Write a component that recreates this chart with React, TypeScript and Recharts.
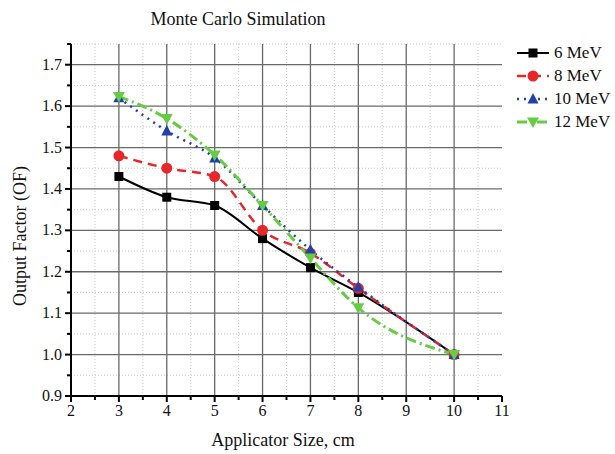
import React from "react";
import {
  LineChart,
  Line,
  XAxis,
  YAxis,
  ReferenceLine,
} from "recharts";

// applicator sizes (cm) and output factors per beam energy
const sizes = [3, 4, 5, 6, 7, 8, 10];
const mev6 = [1.43, 1.38, 1.36, 1.28, 1.21, 1.15, 1.0];
const mev8 = [1.48, 1.45, 1.43, 1.3, 1.245, 1.16, 1.0];
const mev10 = [1.62, 1.54, 1.475, 1.36, 1.253, 1.163, 1.0];
const mev12 = [1.623, 1.57, 1.482, 1.36, 1.233, 1.113, 1.0];

const xTicks = [2, 2.5, 3, 3.5, 4, 4.5, 5, 5.5, 6, 6.5, 7, 7.5, 8, 8.5, 9, 9.5, 10, 10.5, 11];
const yTicks = [0.9, 0.95, 1.0, 1.05, 1.1, 1.15, 1.2, 1.25, 1.3, 1.35, 1.4, 1.45, 1.5, 1.55, 1.6, 1.65, 1.7, 1.75];
const xMajor = [3, 4, 5, 6, 7, 8, 9, 10];
const yMajor = [1.0, 1.1, 1.2, 1.3, 1.4, 1.5, 1.6, 1.7];

const data = sizes.map((s, i) => ({
  size: s,
  mev6: mev6[i],
  mev8: mev8[i],
  mev10: mev10[i],
  mev12: mev12[i],
}));

const FONT = '"Liberation Serif", "DejaVu Serif", serif';

type Shape = "square" | "circle" | "triUp" | "triDown";

const series: { key: string; name: string; color: string; dash?: string; width: number; shape: Shape }[] = [
  { key: "mev6", name: "6 MeV", color: "#000000", width: 2, shape: "square" },
  { key: "mev8", name: "8 MeV", color: "#e8262a", dash: "9 6", width: 2.5, shape: "circle" },
  { key: "mev10", name: "10 MeV", color: "#2340a8", dash: "2 5", width: 2.5, shape: "triUp" },
  { key: "mev12", name: "12 MeV", color: "#66cc44", dash: "10 4 2 4", width: 3, shape: "triDown" },
];

function marker(shape: Shape, cx: number, cy: number, color: string, key?: string) {
  if (shape === "square")
    return <rect key={key} x={cx - 4.5} y={cy - 4.5} width={9} height={9} fill={color} />;
  if (shape === "circle") return <circle key={key} cx={cx} cy={cy} r={5.5} fill={color} />;
  if (shape === "triUp")
    return (
      <polygon key={key} points={`${cx},${cy - 6} ${cx - 5.5},${cy + 4.5} ${cx + 5.5},${cy + 4.5}`} fill={color} />
    );
  return (
    <polygon key={key} points={`${cx},${cy + 6} ${cx - 6},${cy - 4.5} ${cx + 6},${cy - 4.5}`} fill={color} />
  );
}

function YTick(props: any) {
  const { x, y, payload } = props;
  const v = payload.value;
  const major = Math.abs(v * 10 - Math.round(v * 10)) < 1e-6;
  return (
    <g>
      <line x1={x - (major ? 6 : 4)} x2={x} y1={y} y2={y} stroke="#000" strokeWidth={2} />
      {major && (
        <text x={x - 9} y={y + 5} textAnchor="end" fontFamily={FONT} fontSize={16} fill="#111">
          {v.toFixed(1)}
        </text>
      )}
    </g>
  );
}

function XTick(props: any) {
  const { x, y, payload } = props;
  const v = payload.value;
  const major = Number.isInteger(v);
  return (
    <g>
      <line x1={x} x2={x} y1={y} y2={y + (major ? 6 : 4)} stroke="#000" strokeWidth={2} />
      {major && (
        <text x={x} y={y + 20} textAnchor="middle" fontFamily={FONT} fontSize={16} fill="#111">
          {v}
        </text>
      )}
    </g>
  );
}

function LegendBox() {
  return (
    <div style={{ position: "absolute", left: 516, top: 41, fontFamily: FONT, fontSize: 17, color: "#111" }}>
      {series.map((s) => (
        <div key={s.key} style={{ display: "flex", alignItems: "center", height: 23 }}>
          <svg width={34} height={14}>
            <line x1={1} x2={33} y1={7} y2={7} stroke={s.color} strokeWidth={s.width} strokeDasharray={s.dash} />
            {marker(s.shape, 17, 7, s.color)}
          </svg>
          <span style={{ marginLeft: 4 }}>{s.name}</span>
        </div>
      ))}
    </div>
  );
}

export default function App() {
  return (
    <div style={{ position: "relative", width: 615, height: 454, background: "#fff" }}>
      <style>{"body{margin:0}"}</style>
      <LineChart width={615} height={454} data={data} margin={{ top: 44, right: 113, bottom: 0, left: 0 }}>
        <XAxis
          type="number"
          dataKey="size"
          domain={[2, 11]}
          ticks={xTicks}
          interval={0}
          tick={<XTick />}
          tickLine={false}
          tickSize={0}
          tickMargin={0}
          axisLine={{ stroke: "#000", strokeWidth: 2 }}
          height={58}
        />
        <YAxis
          type="number"
          domain={[0.9, 1.75]}
          ticks={yTicks}
          interval={0}
          tick={<YTick />}
          tickLine={false}
          tickSize={0}
          tickMargin={0}
          axisLine={{ stroke: "#000", strokeWidth: 2 }}
          width={71}
          allowDataOverflow
        />
        {xTicks.filter((t) => t > 2 && t < 11 && !Number.isInteger(t)).map((t) => (
          <ReferenceLine key={`xm${t}`} x={t} stroke="#c8c8c8" strokeDasharray="1 2" />
        ))}
        {yTicks.filter((t) => t > 0.9 && !yMajor.some((m) => Math.abs(m - t) < 1e-6)).map((t) => (
          <ReferenceLine key={`ym${t}`} y={t} stroke="#c8c8c8" strokeDasharray="1 2" />
        ))}
        {xMajor.map((t) => (
          <ReferenceLine key={`xM${t}`} x={t} stroke="#6a6a6a" strokeWidth={1.3} />
        ))}
        {yMajor.map((t) => (
          <ReferenceLine key={`yM${t}`} y={t} stroke="#6a6a6a" strokeWidth={1.3} />
        ))}
        {series.map((s) => (
          <Line
            key={s.key}
            type="monotone"
            dataKey={s.key}
            name={s.name}
            stroke={s.color}
            strokeWidth={s.width}
            strokeDasharray={s.dash}
            isAnimationActive={false}
            dot={(p: any) => marker(s.shape, p.cx, p.cy, s.color, `${s.key}-${p.index}`)}
            activeDot={false}
          />
        ))}
        <text x={238} y={25} textAnchor="middle" fontFamily={FONT} fontSize={18} fill="#111">
          Monte Carlo Simulation
        </text>
        <text
          x={26}
          y={236}
          transform="rotate(-90 26 236)"
          textAnchor="middle"
          fontFamily={FONT}
          fontSize={18}
          fill="#111"
        >
          Output Factor (OF)
        </text>
        <text x={283} y={446} textAnchor="middle" fontFamily={FONT} fontSize={18} fill="#111">
          Applicator Size, cm
        </text>
      </LineChart>
      <LegendBox />
    </div>
  );
}
